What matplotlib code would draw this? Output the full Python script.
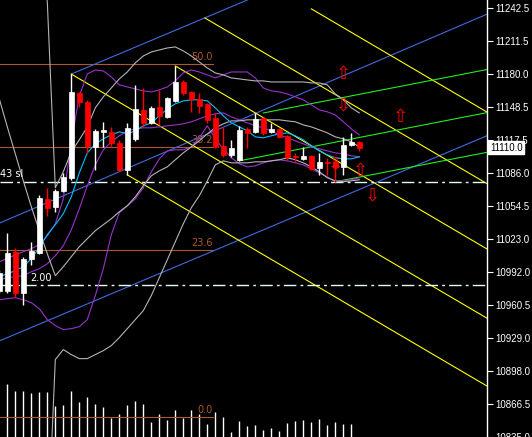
import matplotlib
matplotlib.use('Agg')
import matplotlib.pyplot as plt
import matplotlib.transforms as mtransforms
import numpy as np

# ---------------- data ----------------
bar_index = list(range(-1, 45))
opens = [10974.1, 10974.1, 11011.1, 10972.2, 11004.5, 11010.2, 11061.4, 11053.9, 11069.0, 11081.4,
         11162.1, 11153.6, 11110.8, 11125.1, 11125.1, 11114.6, 11089.0, 11118.4, 11146.0, 11133.6,
         11148.8, 11139.3, 11154.5, 11172.5, 11163.0, 11156.4, 11151.7, 11138.4, 11111.8, 11103.2,
         11098.5, 11127.9, 11125.1, 11138.4, 11125.1, 11127.9, 11121.3, 11102.3, 11099.4, 11102.3,
         11090.9, 11096.6, 11096.6, 11091.8, 11112.7, 11115.6]
highs = [10994.0, 11029.2, 11014.9, 11006.4, 11020.6, 11065.2, 11071.9, 11070.9, 11086.2, 11180.1,
         11163.0, 11155.5, 11127.9, 11134.6, 11129.8, 11117.5, 11133.6, 11169.7, 11166.8, 11149.8,
         11165.0, 11158.3, 11187.7, 11174.4, 11164.0, 11162.1, 11152.6, 11143.1, 11129.8, 11117.5,
         11130.8, 11129.8, 11143.1, 11139.3, 11133.6, 11128.9, 11122.2, 11105.1, 11110.8, 11103.2,
         11105.1, 11100.4, 11098.5, 11120.3, 11124.1, 11116.5]
lows = [10972.2, 10972.2, 10968.4, 10960.8, 10998.8, 11009.2, 11045.3, 11049.1, 11068.1, 11079.5,
        11148.8, 11105.1, 11089.0, 11110.8, 11110.8, 11088.0, 11084.2, 11116.5, 11129.8, 11132.7,
        11131.7, 11138.4, 11153.6, 11160.2, 11144.1, 11143.1, 11133.6, 11109.9, 11101.3, 11101.3,
        11097.5, 11109.9, 11124.1, 11122.2, 11124.1, 11119.4, 11098.5, 11096.6, 11098.5, 11089.0,
        11084.2, 11084.2, 11077.6, 11084.2, 11111.8, 11107.0]
closes = [10991.2, 11010.2, 10972.2, 11004.5, 11012.1, 11062.4, 11052.9, 11069.0, 11082.3, 11163.0,
          11153.6, 11111.8, 11126.0, 11127.0, 11114.6, 11089.0, 11128.9, 11146.9, 11133.6, 11147.9,
          11140.3, 11157.4, 11172.5, 11162.1, 11156.4, 11149.8, 11136.5, 11110.8, 11103.2, 11109.9,
          11127.0, 11124.1, 11137.4, 11124.1, 11127.9, 11120.3, 11101.3, 11101.3, 11102.3, 11089.9,
          11096.6, 11095.6, 11091.8, 11112.7, 11115.6, 11110.0]

volume_index = list(range(0, 44))
volumes = [530, 460, 460, 440, 450, 450, 310, 320, 460, 350, 400, 330, 300, 190, 230, 320, 360, 330,
           150, 230, 170, 270, 190, 270, 230, 130, 250, 200, 50, 160, 110, 120, 70, 90, 60, 140, 160,
           170, 150, 180, 120, 150, 130, 130]

ma_cyan = [10987.4, 10990.2, 10993.1, 10996.9, 11004.5, 11014.9, 11027.3, 11036.8, 11047.2, 11063.3,
           11086.1, 11105.1, 11113.7, 11118.4, 11122.2, 11125.1, 11123.2, 11126.0, 11130.8, 11133.6,
           11140.3, 11146.9, 11151.7, 11154.5, 11155.5, 11155.5, 11154.5, 11147.9, 11140.3, 11133.6,
           11129.8, 11126.0, 11120.3, 11119.4, 11121.3, 11123.2, 11124.1, 11121.3, 11117.5, 11111.8,
           11107.0, 11103.2, 11100.4, 11099.4, 11099.4, 11101.3]
band_upper = [11001.6, 11004.5, 11008.3, 11011.1, 11014.0, 11017.8, 11026.3, 11037.7, 11061.4, 11115.6,
              11159.2, 11180.1, 11183.9, 11183.0, 11177.3, 11169.7, 11167.8, 11165.9, 11164.0, 11163.0,
              11165.0, 11167.8, 11173.5, 11181.1, 11183.9, 11182.0, 11179.2, 11176.3, 11179.2, 11182.0,
              11182.0, 11182.0, 11176.3, 11166.8, 11164.0, 11163.0, 11161.1, 11158.3, 11155.5, 11150.7,
              11146.0, 11144.1, 11141.2, 11134.6, 11127.9, 11122.2]
band_mid = [10984.5, 10986.4, 10987.4, 10988.3, 10992.1, 10995.0, 10999.7, 11007.3, 11016.8, 11032.0,
            11052.0, 11073.8, 11093.7, 11108.0, 11115.6, 11121.3, 11126.0, 11127.9, 11128.9, 11128.9,
            11129.8, 11130.8, 11131.7, 11132.7, 11134.6, 11137.4, 11140.3, 11142.2, 11143.1, 11139.3,
            11136.5, 11133.6, 11130.8, 11128.9, 11126.0, 11122.2, 11119.4, 11116.5, 11113.7, 11110.8,
            11108.9, 11107.0, 11105.1, 11104.2, 11102.3, 11101.3]
band_lower = [10965.5, 10966.5, 10967.4, 10965.5, 10962.7, 10957.0, 10946.6, 10940.9, 10937.1, 10938.0,
              10939.9, 10946.6, 10969.4, 10995.0, 11027.3, 11048.2, 11054.8, 11061.4, 11071.9, 11087.1,
              11099.4, 11107.0, 11108.0, 11108.0, 11110.8, 11119.4, 11130.8, 11118.4, 11108.9, 11100.4,
              11094.7, 11091.8, 11092.8, 11095.6, 11097.5, 11098.5, 11097.5, 11095.6, 11093.7, 11089.9,
              11086.1, 11082.3, 11077.6, 11078.5, 11079.5, 11081.4]

gray_index_a = list(range(4, 45))
gray_upper = [11330.0, 11248.5, 11071.9, 11087.1, 11106.1, 11117.5, 11129.8, 11147.9, 11158.3, 11166.8,
              11175.4, 11182.0, 11190.6, 11197.2, 11201.0, 11202.9, 11204.8, 11205.8, 11202.0, 11197.2,
              11191.5, 11185.8, 11181.1, 11179.2, 11176.3, 11175.4, 11174.4, 11173.5, 11173.5, 11172.5,
              11172.5, 11172.5, 11172.5, 11172.5, 11171.6, 11171.6, 11169.7, 11161.1, 11155.5, 11147.9,
              11143.1]
gray_mid = [11156.4, 11129.8, 11104.2, 11078.5, 11053.9, 11031.1, 11009.2, 10988.3, 10996.9, 11006.4,
            11015.9, 11023.5, 11031.1, 11036.8, 11042.5, 11049.1, 11054.8, 11063.3, 11073.8, 11083.3,
            11088.0, 11091.8, 11098.5, 11105.1, 11110.8, 11116.5, 11123.2, 11128.9, 11132.7, 11135.5,
            11135.5, 11136.5, 11136.5, 11136.5, 11136.5, 11136.5, 11135.5, 11134.6, 11131.7, 11129.8,
            11127.0, 11124.1, 11120.3, 11118.4, 11115.6, 11110.8]
gray_index_b = list(range(5, 45))
gray_lower = [10731.3, 10908.6, 10918.1, 10913.3, 10909.5, 10909.5, 10913.3, 10917.1, 10921.9, 10929.5,
              10938.0, 10946.6, 10955.1, 10969.4, 10986.4, 11003.5, 11020.6, 11037.7, 11052.9, 11064.3,
              11078.5, 11093.7, 11097.5, 11095.6, 11095.6, 11095.6, 11096.6, 11096.6, 11097.5, 11098.5,
              11100.4, 11098.5, 11095.6, 11091.8, 11087.1, 11081.4, 11078.5, 11077.6, 11078.5, 11079.5]

# trend lines: (x1, p1, x2, p2, extend_left)
blue_lines = [(8, 11180.0, 30, 11250.4, False),
              (0, 11041.5, 50, 11204.5, True),
              (0, 10929.5, 50, 11089.5, True)]
yellow_lines = [(38, 11242.0, 60, 11143.7, False),
                (24.7, 11233.3, 50, 11120.3, False),
                (21, 11187.7, 50, 11058.2, False),
                (8, 11180.0, 50, 10992.4, False),
                (15, 11084.2, 50, 10927.9, False)]
green_lines = [(32, 11143.0, 50, 11169.6, False),
               (29, 11097.5, 50, 11128.6, False),
               (41, 11077.6, 50, 11090.9, False)]

fib_low, fib_high = 10854.2, 11525.8
fib_levels = [0.0, 23.6, 38.2, 50.0]
fib_end = 25.75

stop_levels = [11077.3, 10979.1]
stop_texts = ["43 sl", "2.00"]
stop_text_x = [-0.9, 2.9]

arrows_up = [(42, 11180.1), (49.1, 11139.3), (44.1, 11088.0)]
arrows_down = [(42, 11149.8), (45.7, 11064.3), (41, 11093.7)]

yticks = [11242.5, 11211.5, 11180.0, 11148.5, 11117.5, 11086.0, 11054.5, 11023.0,
          10992.0, 10960.5, 10929.0, 10898.0, 10866.5, 10835.0]
last_price = 11110.0

# ---------------- drawing ----------------
W, H = 532, 437
fig = plt.figure(figsize=(W / 100, H / 100), dpi=100, facecolor='black')
rect = [0, 0, 487 / 532, 1]
xlim = (-0.9125, 59.96)
ylim = (10835.5, 11250.4)

vax = fig.add_axes(rect, frameon=False)
vax.set_xlim(*xlim)
vax.set_ylim(0, 4370)
vax.vlines(volume_index, 0, volumes, color='white', lw=1.0)
vax.set_xticks([]); vax.set_yticks([])

ax = fig.add_axes(rect)
ax.set_facecolor('none')
ax.set_xlim(*xlim)
ax.set_ylim(*ylim)

lw = 0.8
# fibonacci
for lv in fib_levels:
    p = fib_low + (fib_high - fib_low) * lv / 100.0
    ax.plot([xlim[0], fib_end], [p, p], color='#B0572E', lw=lw, zorder=2)
    ax.text(fib_end - 0.05, p + 1.5, f"{lv:.1f}", color='#B0572E', fontsize=7,
            ha='right', va='bottom', zorder=3)

# indicator curves
ax.plot(bar_index, band_upper, color='#9932CC', lw=lw, zorder=3)
ax.plot(bar_index, band_mid, color='#9932CC', lw=lw, zorder=3)
ax.plot(bar_index, band_lower, color='#9932CC', lw=lw, zorder=3)
ax.plot(gray_index_a, gray_upper, color='#B4B4B4', lw=lw, zorder=3)
ax.plot(bar_index, gray_mid, color='#B4B4B4', lw=lw, zorder=3)
ax.plot(gray_index_b, gray_lower, color='#B4B4B4', lw=lw, zorder=3)
ax.plot(bar_index, ma_cyan, color='#00BFFF', lw=lw, zorder=3)


def draw_lines(lines, color):
    for x1, p1, x2, p2, ext in lines:
        s = (p2 - p1) / (x2 - x1)
        xa = xlim[0] - 1 if ext else x1
        xb = xlim[1] + 1
        ax.plot([xa, xb], [p1 + s * (xa - x1), p1 + s * (xb - x1)], color=color, lw=lw, zorder=2)


draw_lines(blue_lines, '#4169E1')
draw_lines(yellow_lines, '#FFFF00')
draw_lines(green_lines, '#22EE22')

# stop / target lines
for lv, t, tx in zip(stop_levels, stop_texts, stop_text_x):
    ax.plot(xlim, [lv, lv], color='#E6FAFA', lw=1.0, dashes=(9, 3, 2, 3), zorder=2)
    ax.text(tx, lv + 2.5, t, color='white', fontsize=7, ha='left', va='bottom', zorder=3)

# candles
o = np.array(opens); c = np.array(closes); h = np.array(highs); l = np.array(lows)
x = np.array(bar_index)
up = c >= o
cols = np.where(up, '#FFFFFF', '#FF0000')
ax.vlines(x, l, h, colors=cols, lw=1.0, zorder=4)
bottoms = np.minimum(o, c)
heights = np.maximum(np.abs(c - o), 0.9)
ax.bar(x, heights, bottom=bottoms, width=0.62, color=cols, edgecolor=cols, lw=0.5, zorder=5)

# arrows
for xa, pa in arrows_up:
    ax.text(xa, pa, '\u21e7', color='#FF0000', fontsize=13, ha='center', va='center', zorder=6)
for xa, pa in arrows_down:
    ax.text(xa, pa, '\u21e9', color='#FF0000', fontsize=13, ha='center', va='center', zorder=6)

# axes styling
for side in ['top', 'left', 'bottom']:
    ax.spines[side].set_visible(False)
ax.spines['right'].set_color('white')
ax.spines['right'].set_linewidth(1.0)
ax.set_xticks([])
ax.yaxis.tick_right()
ax.set_yticks(yticks)
ax.set_yticklabels([f"{t:.1f}" for t in yticks])
ax.tick_params(axis='y', colors='white', direction='out', length=4, width=0.8,
               labelsize=7, pad=2)
for lab in ax.get_yticklabels():
    lab.set_fontfamily('Liberation Sans')

trans = mtransforms.blended_transform_factory(ax.transAxes, ax.transData)
ax.text(1.006, last_price, f"{last_price:.1f}", transform=trans, color='black',
        fontsize=7, family='Liberation Sans', ha='left', va='center', zorder=10,
        bbox=dict(boxstyle='square,pad=0.15', fc='white', ec='white'), clip_on=False)

fig.savefig('out.png', dpi=100, facecolor='black')
